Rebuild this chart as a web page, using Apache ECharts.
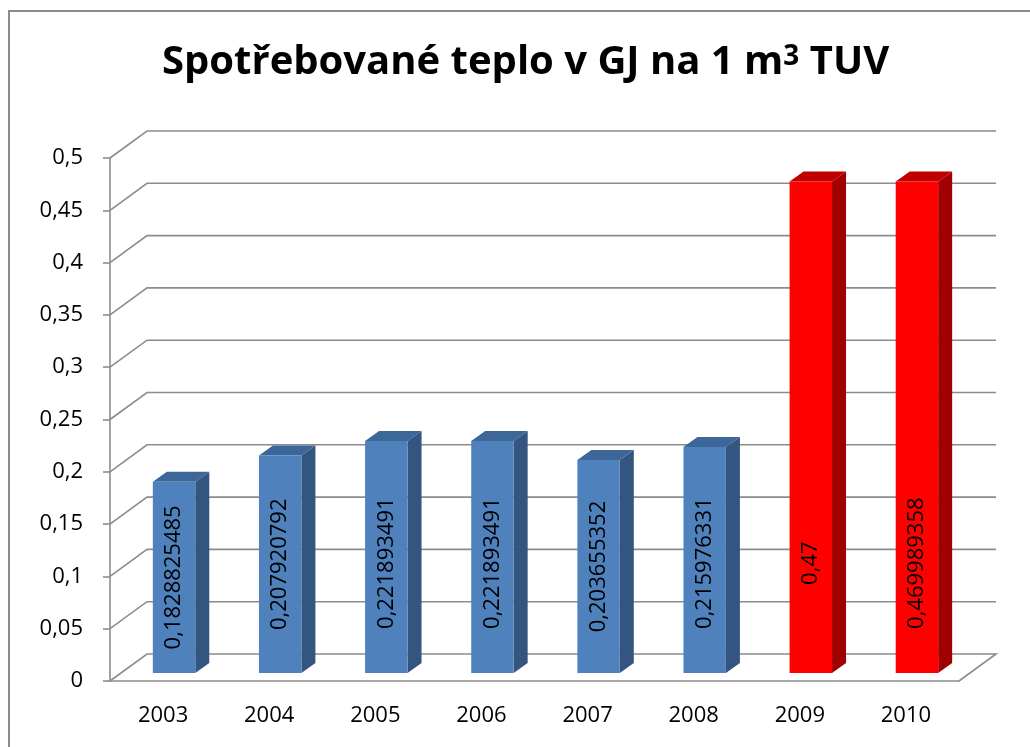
<!DOCTYPE html>
<html>
<head>
<meta charset="utf-8">
<script src="https://cdn.jsdelivr.net/npm/echarts@6/dist/echarts.min.js"></script>
<style>
  html, body { margin: 0; padding: 0; background: #fff; }
  #chart { width: 1030px; height: 747px; }
</style>
</head>
<body>
<div id="chart"></div>
<script>
// data
const years = ['2003', '2004', '2005', '2006', '2007', '2008', '2009', '2010']
const heat = [0.1828825485, 0.207920792, 0.221893491, 0.221893491, 0.203655352, 0.215976331, 0.47, 0.469989358]
const redYears = ['2009', '2010']
const yTicks = [0, 0.05, 0.1, 0.15, 0.2, 0.25, 0.3, 0.35, 0.4, 0.45, 0.5]

// 3d look (pixels)
const DEPTH_X = 37, DEPTH_Y = 27   // back wall offset
const FRONT_X = 11, FRONT_Y = 8    // bar front face offset
const BAR_X = 14, BAR_Y = 10       // bar depth
const GRID_COLOR = '#8c8c8c'
const FONT = '"Open Sans", "Noto Sans", sans-serif'

const blue = { front: '#4f81bd', top: '#3d6799', side: '#34557f' }
const red = { front: '#ff0000', top: '#c00000', side: '#a00000' }

const comma = v => String(v).replace('.', ',')

const chart = echarts.init(document.getElementById('chart'))

function renderGrid(params, api) {
  const cs = params.coordSys
  const v = api.value(1)
  const y = api.coord([0, v])[1]
  const L = cs.x, R = cs.x + cs.width
  const pts = [[L, y], [L + DEPTH_X, y - DEPTH_Y], [R + DEPTH_X, y - DEPTH_Y]]
  if (v === 0) pts.push([R, y])
  return {
    type: 'polyline',
    shape: { points: pts },
    style: { stroke: GRID_COLOR, lineWidth: 1.6, fill: null }
  }
}

function renderBar(params, api) {
  const i = api.value(0)
  const v = api.value(1)
  const band = api.size([1, 0])[0]
  const bw = band * 0.4
  const c = api.coord([i, 0])[0]
  const x0 = c - bw / 2 + FRONT_X
  const x1 = x0 + bw
  const yb = api.coord([i, 0])[1] - FRONT_Y
  const yt = api.coord([i, v])[1] - FRONT_Y
  const col = redYears.indexOf(years[i]) >= 0 ? red : blue
  const ly = api.coord([i, Math.min(v / 2, 0.105)])[1] - FRONT_Y
  return {
    type: 'group',
    children: [
      {
        type: 'polygon',
        shape: { points: [[x1, yt], [x1 + BAR_X, yt - BAR_Y], [x1 + BAR_X, yb - BAR_Y], [x1, yb]] },
        style: { fill: col.side }
      },
      {
        type: 'polygon',
        shape: { points: [[x0, yt], [x0 + BAR_X, yt - BAR_Y], [x1 + BAR_X, yt - BAR_Y], [x1, yt]] },
        style: { fill: col.top }
      },
      {
        type: 'rect',
        shape: { x: x0, y: yt, width: bw, height: yb - yt },
        style: { fill: col.front }
      },
      {
        type: 'text',
        x: (x0 + x1) / 2,
        y: ly,
        rotation: Math.PI / 2,
        style: {
          text: comma(v),
          fill: '#000',
          font: '22px ' + FONT,
          align: 'center',
          verticalAlign: 'middle'
        }
      }
    ]
  }
}

const option = {
  animation: false,
  title: {
    text: 'Spotřebované teplo v GJ na 1 m{sup|3} TUV',
    left: 157,
    top: 38,
    textStyle: {
      fontFamily: FONT,
      fontWeight: 'bold',
      fontSize: 40,
      color: '#000',
      rich: {
        sup: { fontFamily: FONT, fontWeight: 'bold', fontSize: 28, verticalAlign: 'top', color: '#000' }
      }
    }
  },
  graphic: [{
    type: 'rect',
    shape: { x: 9, y: 11, width: 1040, height: 760 },
    style: { fill: null, stroke: '#8c8c8c', lineWidth: 2 },
    z: -1
  }],
  grid: { left: 110, right: 71, top: 158, bottom: 66 },
  xAxis: {
    type: 'category',
    data: years,
    axisLine: { lineStyle: { color: GRID_COLOR, width: 1.6 } },
    axisTick: { length: 6, lineStyle: { color: GRID_COLOR, width: 1.6 } },
    axisLabel: { color: '#000', fontFamily: FONT, fontSize: 22, margin: 24 }
  },
  yAxis: {
    type: 'value',
    min: 0,
    max: 0.5,
    interval: 0.05,
    axisLine: { show: true, lineStyle: { color: GRID_COLOR, width: 1.6 } },
    axisTick: { show: true, length: 7, lineStyle: { color: GRID_COLOR, width: 1.6 } },
    splitLine: { show: false },
    axisLabel: {
      color: '#000', fontFamily: FONT, fontSize: 22, margin: 27,
      formatter: v => comma(+v.toFixed(2))
    }
  },
  series: [
    {
      type: 'custom',
      z: 1,
      renderItem: renderGrid,
      data: yTicks.map(v => [0, v]),
      silent: true
    },
    {
      type: 'custom',
      z: 2,
      renderItem: renderBar,
      data: heat.map((v, i) => [i, v])
    }
  ]
}

chart.setOption(option)
</script>
</body>
</html>
